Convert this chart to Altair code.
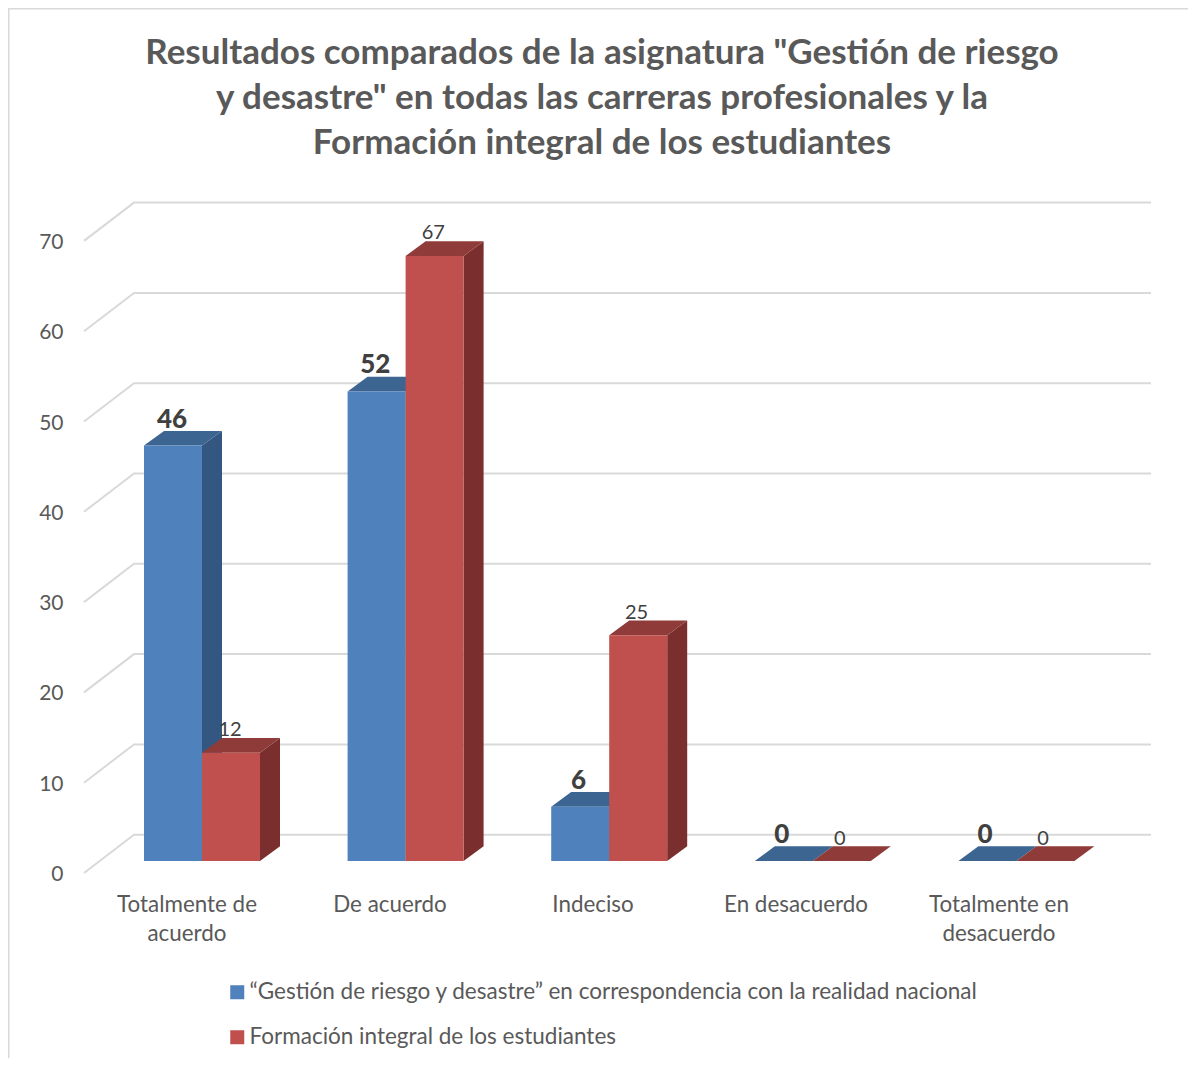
import altair as alt
import pandas as pd

title_lines = ['Resultados comparados de la asignatura "Gestión de riesgo',
               'y desastre" en todas las carreras profesionales y la',
               'Formación integral de los estudiantes']
categories = ["Totalmente de\nacuerdo", "De acuerdo", "Indeciso", "En desacuerdo", "Totalmente en\ndesacuerdo"]
series_names = ["“Gestión de riesgo y desastre” en correspondencia con la realidad nacional",
                "Formación integral de los estudiantes"]
series_a = [46, 52, 6, 0, 0]
series_b = [12, 67, 25, 0, 0]
y_ticks = [0, 10, 20, 30, 40, 50, 60, 70]

FONT = "Lato"
TEXT = "#595959"
FRONT = ["#4f81bd", "#c0504d"]
TOP = ["#3c6591", "#8f3b39"]
SIDE = ["#335780", "#7a2f2e"]
GRID = "#d9d9d9"

W, TOP_PAD, H = 1180, 170, 880
PX = 9.03                # pixels per value unit
BASE = 12 / PX           # floor raise of the bars' front face
DX, DY = 20, 14.7 / PX   # bar depth
BACK_DX, BACK_DY = 50, 38.3 / PX  # wall depth
X0, STEP, BW = 136, 203.6, 58     # first bar's left, group spacing, bar width
LABEL_STEP = 203.25
CAT_STEP = 203
WALL_END = 1143

xs = alt.Scale(domain=[0, W], range=[0, W], nice=False, zero=False)
ys = alt.Scale(domain=[(873 - 1058) / PX, (873 - 178) / PX], nice=False, zero=False)
y_axis = alt.Axis(values=y_ticks, domain=False, ticks=False, grid=False, offset=-55, labelPadding=0,
                  labelFont=FONT, labelFontSize=21, labelColor=TEXT, title=None, labelOffset=1.5)
X = lambda f: alt.X(f, type="quantitative", scale=xs, axis=None)
Y = lambda f: alt.Y(f, type="quantitative", scale=ys, axis=y_axis, stack=None, title=None)

grid_rows = []
for v in y_ticks:
    grid_rows += [dict(v=v, x=76, y=v, k=0),
                  dict(v=v, x=76 + BACK_DX, y=v + BACK_DY, k=1),
                  dict(v=v, x=WALL_END, y=v + BACK_DY, k=2)]
grid = alt.Chart(pd.DataFrame(grid_rows)).mark_line(color=GRID, strokeWidth=2).encode(
    x=X("x"), y=Y("y"), detail="v:N", order="k:Q")

layers = [grid]
color_scale = alt.Scale(domain=series_names, range=FRONT)
for s, vals in enumerate([series_a, series_b]):
    side, top, front = [], [], []
    for i, v in enumerate(vals):
        x0 = X0 + i * STEP + s * BW
        x1 = x0 + BW
        u = v + BASE
        side += [dict(c=i, x=x1, y=u, y2=BASE), dict(c=i, x=x1 + DX, y=u + DY, y2=BASE + DY)]
        top += [dict(c=i, x=x0, y=u, y2=u), dict(c=i, x=x0 + DX, y=u + DY, y2=u),
                dict(c=i, x=x1, y=u + DY, y2=u), dict(c=i, x=x1 + DX, y=u + DY, y2=u + DY)]
        front.append(dict(c=i, x=x0, x2=x1, y=u, y2=BASE, series=series_names[s]))
    layers.append(alt.Chart(pd.DataFrame(side)).mark_area(color=SIDE[s], interpolate="linear").encode(
        x=X("x"), y=Y("y"), y2="y2:Q", detail="c:N"))
    layers.append(alt.Chart(pd.DataFrame(top)).mark_area(color=TOP[s], interpolate="linear").encode(
        x=X("x"), y=Y("y"), y2="y2:Q", detail="c:N"))
    layers.append(alt.Chart(pd.DataFrame(front)).mark_rect().encode(
        x=X("x"), x2="x2:Q", y=Y("y"), y2="y2:Q",
        color=alt.Color("series:N", scale=color_scale, title=None, legend=alt.Legend(
            orient="none", legendX=218, legendY=803, direction="vertical",
            symbolType="square", symbolSize=196, symbolStrokeWidth=0,
            labelFont=FONT, labelFontSize=22.5, labelColor=TEXT, labelLimit=900,
            labelOffset=1, rowPadding=22))))

for s, vals in enumerate([series_a, series_b]):
    rows = [dict(x=X0 + i * LABEL_STEP + s * BW + 28, y=v + BASE, label=str(v)) for i, v in enumerate(vals)]
    mark = (dict(fontSize=26, fontWeight=900, dy=-26) if s == 0 else dict(fontSize=20, dy=-22.5))
    layers.append(alt.Chart(pd.DataFrame(rows)).mark_text(
        font=FONT, color="#404040", baseline="middle", align="center", **mark).encode(
        x=X("x"), y=Y("y"), text="label:N"))

cat_rows = [dict(x=X0 + 43 + i * CAT_STEP, y=(873 - 894) / PX, label=c) for i, c in enumerate(categories)]
layers.append(alt.Chart(pd.DataFrame(cat_rows)).mark_text(
    font=FONT, fontSize=22.4, color=TEXT, lineBreak="\n", lineHeight=29, baseline="top", align="center").encode(
    x=X("x"), y=Y("y"), text="label:N"))

frame_v = alt.Chart(pd.DataFrame({"a": [0]})).mark_rule(color=GRID, strokeWidth=2).encode(
    x=alt.value(0.5), y=alt.value(-TOP_PAD), y2=alt.value(H))
frame_h = alt.Chart(pd.DataFrame({"a": [0]})).mark_rule(color=GRID, strokeWidth=2).encode(
    y=alt.value(-TOP_PAD + 0.5), x=alt.value(0), x2=alt.value(W))
layers += [frame_v, frame_h]

chart = alt.layer(*layers).properties(
    width=W, height=H,
    padding={"left": 0, "top": TOP_PAD, "right": 0, "bottom": 0},
    autosize=alt.AutoSizeParams(type="none"),
    background="white",
    title=alt.TitleParams(text=title_lines, font=FONT, fontSize=35, fontWeight="bold", color=TEXT,
                          anchor="middle", frame="group", lineHeight=45, offset=-154, dx=4),
).configure_view(strokeWidth=0)

chart.save("out.html", embed_options={"renderer": "svg", "actions": False})
